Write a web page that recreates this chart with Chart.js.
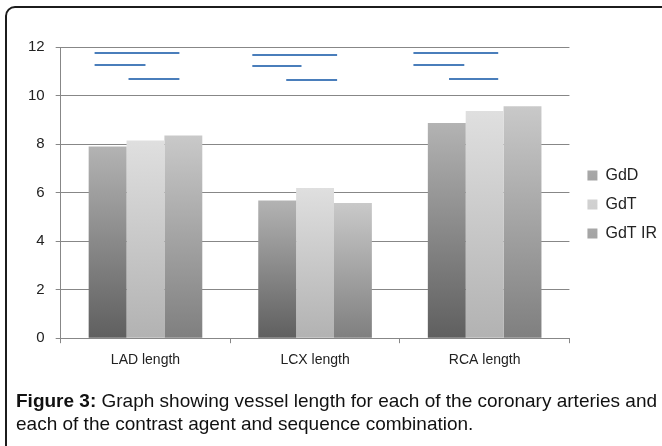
<!DOCTYPE html>
<html>
<head>
<meta charset="utf-8">
<script src="https://cdn.jsdelivr.net/npm/chart.js@4.4.0/dist/chart.umd.min.js"></script>
<style>
    body { margin: 0; background: #fff; width: 662px; height: 446px; overflow: hidden; position: relative; font-family: "Liberation Sans", Arial, sans-serif; }
    #moldura { position: absolute; left: 5px; top: 6px; width: 700px; height: 480px; border: 2px solid #1c1c1c; border-radius: 10px; box-sizing: border-box; }
    #caixa { position: absolute; left: 0; top: 0; width: 662px; height: 390px; }
    #legenda-fig { position: absolute; left: 16px; top: 389px; font-size: 19px; line-height: 23px; color: #111; white-space: nowrap; }
</style>
</head>
<body>
<div id="moldura"></div>
<div id="caixa"><canvas id="comprimento-vasos"></canvas></div>
<div id="legenda-fig"><b>Figure 3:</b> Graph showing vessel length for each of the coronary arteries and<br>each of the contrast agent and sequence combination.</div>

<script>
//Dados
const categorias = ['LAD length', 'LCX length', 'RCA length']
const series = ['GdD', 'GdT', 'GdT IR']
const valoresGdD = [7.9, 5.67, 8.87]
const valoresGdT = [8.15, 6.19, 9.36]
const valoresGdTIR = [8.35, 5.57, 9.56]

//Linhas azuis (y em unidades do eixo, x em índice de categoria)
const linhasY = [11.75, 11.27, 10.69, 11.68, 11.2, 10.63, 11.75, 11.27, 10.69]
const linhasInicio = [-0.30, -0.30, -0.10, 0.63, 0.63, 0.83, 1.58, 1.58, 1.79]
const linhasFim = [0.20, 0.00, 0.20, 1.13, 0.92, 1.13, 2.08, 1.88, 2.08]

//Cores (topo, base, legenda)
const cores = [
    ['#b3b3b3', '#5f5f5f', '#8c8c8c'],
    ['#dfdfdf', '#b2b2b2', '#cbcbcb'],
    ['#c9c9c9', '#7f7f7f', '#a3a3a3']
]

//Degradê em cada barra
function degrade(c) {
    return (ctx) => {
        const chart = ctx.chart
        if (!chart.chartArea || ctx.type !== 'data') return c[2]
        const y = chart.scales.y
        const topo = y.getPixelForValue(ctx.parsed.y)
        const base = y.getPixelForValue(0)
        const g = chart.ctx.createLinearGradient(0, topo, 0, base)
        g.addColorStop(0, c[0])
        g.addColorStop(1, c[1])
        return g
    }
}

let datasets = []
const valores = [valoresGdD, valoresGdT, valoresGdTIR]
series.forEach((nome, i) => {
    datasets.push({
        label: nome,
        data: valores[i],
        backgroundColor: degrade(cores[i]),
        borderWidth: 0,
        categoryPercentage: 0.67,
        barPercentage: 1
    })
})

//Linhas azuis desenhadas pelas escalas
const linhasAzuis = {
    id: 'linhasAzuis',
    afterDatasetsDraw(chart) {
        const { ctx, scales: { x, y } } = chart
        ctx.save()
        ctx.strokeStyle = '#4a7ebb'
        ctx.lineWidth = 2
        linhasY.forEach((v, i) => {
            const py = Math.round(y.getPixelForValue(v))
            ctx.beginPath()
            ctx.moveTo(x.getPixelForValue(linhasInicio[i]), py)
            ctx.lineTo(x.getPixelForValue(linhasFim[i]), py)
            ctx.stroke()
        })
        ctx.restore()
    }
}

//Mover a legenda para o lugar
const moverLegenda = {
    id: 'moverLegenda',
    afterLayout(chart) {
        const l = chart.legend
        l.left += 5; l.right += 5
        l.top -= 8; l.bottom -= 8
    }
}

const corGrade = '#878787'
let ctxVasos = document.getElementById('comprimento-vasos')
let graficoVasos = new Chart(ctxVasos, {
    type: 'bar',
    data: {
        labels: categorias,
        datasets: datasets
    },
    options: {
        responsive: true,
        maintainAspectRatio: false,
        animation: false,
        layout: { padding: { top: 47, left: 17, right: 0, bottom: 12 } },
        plugins: {
            tooltip: { enabled: false },
            legend: {
                position: 'right',
                labels: {
                    boxWidth: 10,
                    boxHeight: 10,
                    padding: 13,
                    color: '#222',
                    font: { family: 'Liberation Sans', size: 16 }
                }
            }
        },
        scales: {
            x: {
                grid: { drawOnChartArea: false, color: corGrade, tickLength: 5 },
                border: { color: corGrade },
                ticks: { color: '#222', padding: 9, font: { family: 'Liberation Sans', size: 14 } }
            },
            y: {
                min: 0,
                max: 12,
                ticks: { stepSize: 2, color: '#222', padding: 11, font: { family: 'Liberation Sans', size: 15 } },
                grid: { color: corGrade, tickLength: 5 },
                border: { color: corGrade }
            }
        }
    },
    plugins: [moverLegenda, linhasAzuis]
})
</script>
</body>
</html>
